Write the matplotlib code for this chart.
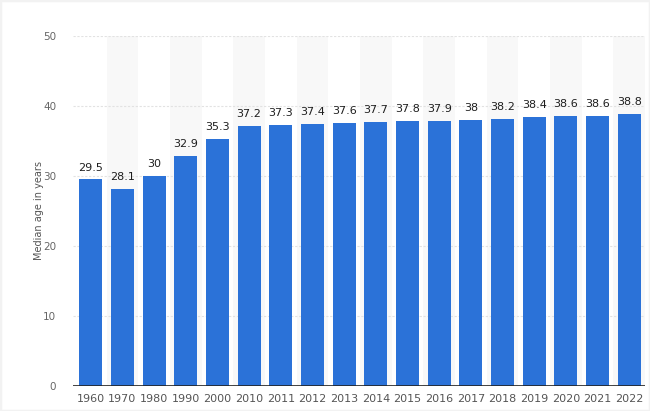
import matplotlib
matplotlib.use("Agg")
import matplotlib.pyplot as plt
from matplotlib.patches import Rectangle

years = ["1960", "1970", "1980", "1990", "2000", "2010", "2011", "2012", "2013",
         "2014", "2015", "2016", "2017", "2018", "2019", "2020", "2021", "2022"]
ages = [29.5, 28.1, 30, 32.9, 35.3, 37.2, 37.3, 37.4, 37.6, 37.7, 37.8, 37.9,
        38, 38.2, 38.4, 38.6, 38.6, 38.8]
labels = ["29.5", "28.1", "30", "32.9", "35.3", "37.2", "37.3", "37.4", "37.6",
          "37.7", "37.8", "37.9", "38", "38.2", "38.4", "38.6", "38.6", "38.8"]
yticks = [0, 10, 20, 30, 40, 50]

plt.rcParams['font.family'] = ['DejaVu Sans']
fig = plt.figure(figsize=(6.5, 4.11), dpi=100)
fig.patches.append(Rectangle((0, 0), 1, 1, transform=fig.transFigure,
                             fill=False, edgecolor='#f2f2f2', lw=2.5, zorder=10))
ax = fig.add_axes([73/650, 25/411, (645-73)/650, (386-36)/411])

n = len(years)
x = list(range(n))
for i in x:
    if i % 2 == 1:
        ax.axvspan(i - 0.5, i + 0.5, ymin=0, ymax=1, color='#f8f8f8', zorder=0, lw=0)

for t in yticks[1:]:
    ax.axhline(t, color='#e2e2e2', lw=0.8, ls=(0, (2, 1.5)), zorder=1)

ax.bar(x, ages, width=0.73, color='#2b72d8', zorder=2)
for xi, v, lab in zip(x, ages, labels):
    ax.text(xi, v + 1.0, lab, ha='center', va='bottom', fontsize=8,
            color='#1e1e1e', zorder=3)

ax.axhline(0, color='#222222', lw=1.2, zorder=3)

ax.set_xlim(-0.56, n - 0.5)
ax.set_ylim(0, 50)
ax.set_xticks(x)
ax.set_xticklabels(years, fontsize=8, color='#555555')
ax.set_yticks(yticks)
ax.set_yticklabels([str(t) for t in yticks], fontsize=7.5, color='#666666')
ax.tick_params(axis='both', length=0)
ax.tick_params(axis='y', pad=12)
ax.tick_params(axis='x', pad=6)
for s in ax.spines.values():
    s.set_visible(False)
ax.set_ylabel("Median age in years", fontsize=7, color='#555555')
ax.yaxis.set_label_coords(-0.05, 0.5)

fig.savefig("out.png", dpi=100)
